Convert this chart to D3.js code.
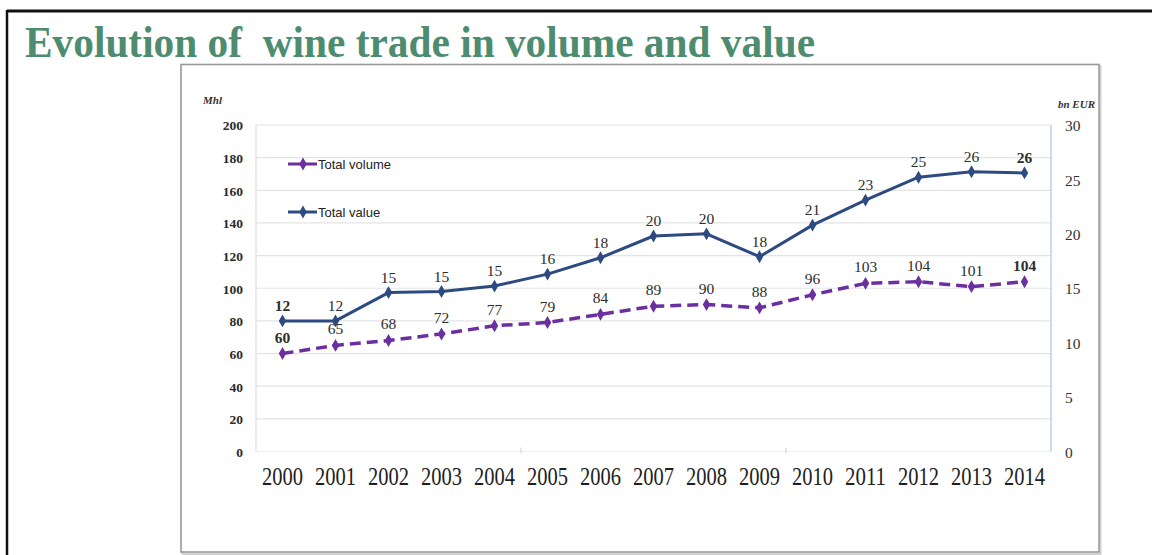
<!DOCTYPE html>
<html>
<head>
<meta charset="utf-8">
<script src="https://cdn.jsdelivr.net/npm/d3@7"></script>
<style>
  html, body { margin: 0; padding: 0; background: #fff; }
  svg { display: block; }
</style>
</head>
<body>
<svg id="chart" width="1152" height="555"></svg>
<script>
// Wine trade, 2000-2014
const years = ["2000","2001","2002","2003","2004","2005","2006","2007","2008","2009","2010","2011","2012","2013","2014"];
const volumeMhl = [60, 65, 68, 72, 77, 79, 84, 89, 90, 88, 96, 103, 104, 101, 104];
const valueBnEur = [12, 12, 14.6, 14.7, 15.2, 16.3, 17.8, 19.8, 20.0, 17.9, 20.8, 23.1, 25.2, 25.7, 25.6];
const leftTicks = [0, 20, 40, 60, 80, 100, 120, 140, 160, 180, 200];
const rightTicks = [0, 5, 10, 15, 20, 25, 30];
const seriesNames = ["Total volume", "Total value"];

const svg = d3.select("#chart");
const serif = "'Liberation Serif', 'DejaVu Serif', serif";
const sans = "'Liberation Sans', Arial, sans-serif";

const plot = { left: 256, right: 1051, top: 125, bottom: 451.5 };

const x = d3.scaleBand().domain(years).range([plot.left, plot.right]).padding(0);
const cx = d => x(d) + x.bandwidth() / 2;
const yL = d3.scaleLinear().domain([0, 200]).range([plot.bottom, plot.top]);
const yR = d3.scaleLinear().domain([0, 30]).range([plot.bottom, plot.top]);

const colVolume = "#6b2fa0";
const colValue = "#2d4b80";
const labelCol = "#2e2e2e";

// Page frame
svg.append("line").attr("x1", 7).attr("x2", 1152).attr("y1", 11).attr("y2", 11)
  .attr("stroke", "#111").attr("stroke-width", 3);
svg.append("line").attr("x1", 7).attr("x2", 7).attr("y1", 10).attr("y2", 555)
  .attr("stroke", "#111").attr("stroke-width", 2.5);

// Title
svg.append("text")
  .attr("x", 25).attr("y", 57)
  .attr("font-family", serif).attr("font-weight", "bold").attr("font-size", 45)
  .attr("fill", "#4d8c6e")
  .attr("textLength", 790).attr("lengthAdjust", "spacingAndGlyphs")
  .style("white-space", "pre")
  .text("Evolution of  wine trade in volume and value");

// Chart frame with soft shadow
svg.append("rect").attr("x", 182.5).attr("y", 66).attr("width", 918).attr("height", 488)
  .attr("fill", "none").attr("stroke", "#d0d0d0").attr("stroke-width", 2);
svg.append("rect").attr("x", 181).attr("y", 64.5).attr("width", 918).attr("height", 487.5)
  .attr("fill", "#fff").attr("stroke", "#9a9a9a").attr("stroke-width", 1.6);

// Gridlines
svg.append("g").selectAll("line").data(leftTicks.filter(t => t > 0)).join("line")
  .attr("x1", plot.left).attr("x2", plot.right)
  .attr("y1", d => yL(d)).attr("y2", d => yL(d))
  .attr("stroke", "#e4e4e4").attr("stroke-width", 1.2);

// Category axis line and sparse tick marks
svg.append("line").attr("x1", plot.left).attr("x2", plot.right)
  .attr("y1", plot.bottom).attr("y2", plot.bottom)
  .attr("stroke", "#eeeeee").attr("stroke-width", 1);
svg.append("g").selectAll("line").data([years[5], years[10]]).join("line")
  .attr("x1", d => x(d)).attr("x2", d => x(d))
  .attr("y1", plot.bottom - 4).attr("y2", plot.bottom + 2)
  .attr("stroke", "#d8d8d8").attr("stroke-width", 1.2);

// Value axes (light blue rules)
svg.append("line").attr("x1", plot.left).attr("x2", plot.left)
  .attr("y1", plot.top).attr("y2", plot.bottom)
  .attr("stroke", "#dbe6f4").attr("stroke-width", 1.5);
svg.append("line").attr("x1", plot.right).attr("x2", plot.right)
  .attr("y1", plot.top).attr("y2", plot.bottom)
  .attr("stroke", "#b9d0ec").attr("stroke-width", 1.5);

// Left axis labels
const axisL = d3.axisLeft(yL).tickValues(leftTicks).tickSize(0).tickPadding(0);
const gL = svg.append("g").attr("transform", "translate(243,0)").call(axisL);
gL.select(".domain").remove();
gL.selectAll("text")
  .attr("font-family", serif).attr("font-weight", "bold").attr("font-size", 13.5)
  .attr("fill", "#2a2a2a").attr("dy", "0.36em");

// Right axis labels
const axisR = d3.axisRight(yR).tickValues(rightTicks).tickSize(0).tickPadding(0);
const gR = svg.append("g").attr("transform", "translate(1065,0)").call(axisR);
gR.select(".domain").remove();
gR.selectAll("text")
  .attr("font-family", serif).attr("font-size", 15.5)
  .attr("fill", "#333").attr("dy", "0.36em");

// Unit captions
svg.append("text").attr("x", 203).attr("y", 104)
  .attr("font-family", serif).attr("font-style", "italic").attr("font-weight", "bold")
  .attr("font-size", 11).attr("fill", "#333").text("Mhl");
svg.append("text").attr("x", 1095).attr("y", 108).attr("text-anchor", "end")
  .attr("font-family", serif).attr("font-style", "italic").attr("font-weight", "bold")
  .attr("font-size", 11).attr("fill", "#333").text("bn EUR");

// Category labels
const axisX = d3.axisBottom(x).tickSize(0).tickPadding(0);
const gX = svg.append("g").attr("transform", "translate(0,467)").call(axisX);
gX.select(".domain").remove();
gX.selectAll("text")
  .attr("font-family", serif).attr("font-size", 25).attr("fill", "#1e1e1e")
  .attr("dy", "0.7em")
  .attr("textLength", 41).attr("lengthAdjust", "spacingAndGlyphs");

const diamond = d3.symbol().type(d3.symbolDiamond).size(48);

// Total value line (right axis)
const lineValue = d3.line().x((d, i) => cx(years[i])).y(d => yR(d));
svg.append("path").datum(valueBnEur).attr("d", lineValue)
  .attr("fill", "none").attr("stroke", colValue).attr("stroke-width", 3)
  .attr("stroke-linejoin", "round");
svg.append("g").selectAll("path").data(valueBnEur).join("path")
  .attr("d", diamond)
  .attr("transform", (d, i) => `translate(${cx(years[i])},${yR(d)})`)
  .attr("fill", colValue);

// Total volume line (left axis), dashed
const lineVolume = d3.line().x((d, i) => cx(years[i])).y(d => yL(d));
svg.append("path").datum(volumeMhl).attr("d", lineVolume)
  .attr("fill", "none").attr("stroke", colVolume).attr("stroke-width", 3.5)
  .attr("stroke-dasharray", "11,6");
svg.append("g").selectAll("path").data(volumeMhl).join("path")
  .attr("d", diamond)
  .attr("transform", (d, i) => `translate(${cx(years[i])},${yL(d)})`)
  .attr("fill", colVolume);

// Data labels
const fmt = d3.format(".0f");
const isEnd = i => i === 0 || i === years.length - 1;
svg.append("g").selectAll("text").data(valueBnEur).join("text")
  .attr("x", (d, i) => cx(years[i])).attr("y", d => yR(d) - 10)
  .attr("text-anchor", "middle")
  .attr("font-family", serif).attr("font-size", 15.5)
  .attr("font-weight", (d, i) => isEnd(i) ? "bold" : "normal")
  .attr("fill", labelCol).text(d => fmt(d));
svg.append("g").selectAll("text").data(volumeMhl).join("text")
  .attr("x", (d, i) => cx(years[i])).attr("y", d => yL(d) - 11)
  .attr("text-anchor", "middle")
  .attr("font-family", serif).attr("font-size", 15.5)
  .attr("font-weight", (d, i) => isEnd(i) ? "bold" : "normal")
  .attr("fill", labelCol).text(d => fmt(d));

// Legend
const legend = svg.append("g");
const legendRows = [
  { name: seriesNames[0], color: colVolume, y: 164 },
  { name: seriesNames[1], color: colValue, y: 212 }
];
legendRows.forEach(r => {
  legend.append("line").attr("x1", 288).attr("x2", 317).attr("y1", r.y).attr("y2", r.y)
    .attr("stroke", r.color).attr("stroke-width", 3);
  legend.append("path").attr("d", diamond)
    .attr("transform", `translate(303,${r.y})`).attr("fill", r.color);
  legend.append("text").attr("x", 318).attr("y", r.y).attr("dy", "0.35em")
    .attr("font-family", sans).attr("font-size", 13).attr("fill", "#222")
    .text(r.name);
});
</script>
</body>
</html>
